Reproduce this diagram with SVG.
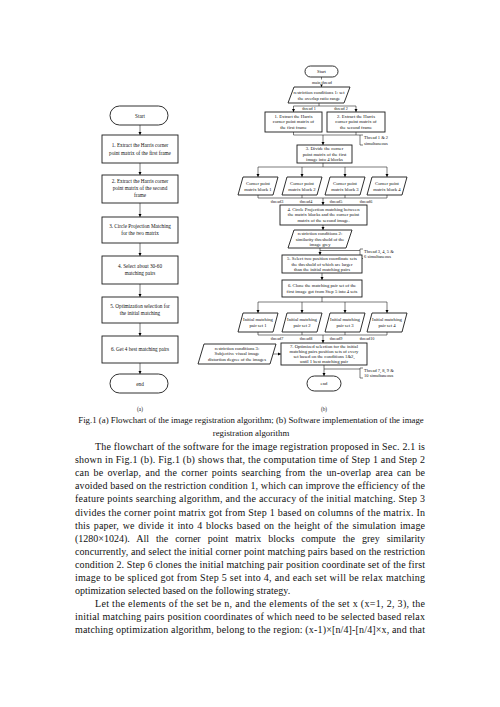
<svg xmlns="http://www.w3.org/2000/svg" width="500" height="707" viewBox="0 0 500 707">
<defs>
<marker id="ah" viewBox="0 0 6 6" refX="6" refY="3" markerWidth="3.2" markerHeight="3.2" orient="auto" markerUnits="userSpaceOnUse"><path d="M0,0 L6,3 L0,6 z" fill="#000"/></marker>
<style>
.bx{fill:#fff;stroke:#1a1a1a;stroke-width:0.9}
.ln{fill:none;stroke:#222;stroke-width:0.6}
.ar{fill:none;stroke:#222;stroke-width:0.6;marker-end:url(#ah)}
.tl{font-family:"Liberation Serif","Times New Roman",serif;font-size:5.2px;fill:#111;text-anchor:middle}
.tr{font-family:"Liberation Serif","Times New Roman",serif;font-size:4.7px;fill:#111;text-anchor:middle}
.ts{font-family:"Liberation Serif","Times New Roman",serif;font-size:4.2px;fill:#111;text-anchor:middle}
.tn{font-family:"Liberation Serif","Times New Roman",serif;font-size:4.5px;fill:#111;text-anchor:start}
.cap{font-family:"Liberation Serif","Times New Roman",serif;font-size:8.8px;fill:#111;text-anchor:middle}
.p{font-family:"Liberation Serif","Times New Roman",serif;font-size:10px;fill:#111}
</style>
</defs>
<rect width="500" height="707" fill="#fff"/>

<!-- connectors -->
<g id="connectors">
<path class="ar" d="M140,125 V135"/>
<path class="ar" d="M140,163 V175"/>
<path class="ar" d="M140,203 V217"/>
<path class="ar" d="M140,243 V256"/>
<path class="ar" d="M140,284 V297"/>
<path class="ar" d="M140,323 V336"/>
<path class="ar" d="M140,363 V374"/>
<path class="ar" d="M321.5,77 V87"/>
<path class="ln" d="M319,103 V106 M293.5,106 H356"/>
<path class="ar" d="M293.5,106 V112"/>
<path class="ar" d="M356,106 V112"/>
<path class="ln" d="M293.5,132 V135 H356 V132 M356,135 H360 M363,135 H360 V145 H363"/>
<path class="ar" d="M323,135 V145"/>
<path class="ln" d="M323,163 V167 M258,167 H387"/>
<path class="ar" d="M258,167 V177"/>
<path class="ar" d="M302,167 V177"/>
<path class="ar" d="M345,167 V177"/>
<path class="ar" d="M387,167 V177"/>
<path class="ln" d="M258,195 V198 M302,195 V198 M345,195 V198 M387,195 V198 M258,198 H387"/>
<path class="ar" d="M323,198 V205"/>
<path class="ar" d="M323,225 V230"/>
<path class="ar" d="M320,248 V255"/>
<path class="ln" d="M320,250.5 H360 M363,249 H360 V258.5 H363"/>
<path class="ar" d="M322,273 V280"/>
<path class="ln" d="M322,297 V302 M258,302 H387"/>
<path class="ar" d="M258,302 V313"/>
<path class="ar" d="M302,302 V313"/>
<path class="ar" d="M345,302 V313"/>
<path class="ar" d="M387,302 V313"/>
<path class="ln" d="M258,332 V335 M302,332 V335 M345,332 V335 M387,332 V335 M258,335 H387"/>
<path class="ar" d="M323,335 V343"/>
<path class="ar" d="M273,354 H281"/>
<path class="ar" d="M324,365 V376"/>
<path class="ln" d="M324,369 H360 M363,368 H360 V378 H363"/>
</g>

<!-- left flowchart (a) -->
<g id="a-start"><rect class="bx" x="110" y="106" width="58" height="19" rx="9.5"/><text class="tl" x="140" y="117.5">Start</text></g>
<g id="a-step1"><rect class="bx" x="102" y="135" width="76" height="28"/><text class="tl" x="140" y="147">1. Extract the Harris corner</text><text class="tl" x="140" y="154.5">point matrix of the first frame</text></g>
<g id="a-step2"><rect class="bx" x="102" y="175" width="76" height="28"/><text class="tl" x="140" y="183">2. Extract the Harris corner</text><text class="tl" x="140" y="190">point matrix of the second</text><text class="tl" x="140" y="197">frame</text></g>
<g id="a-step3"><rect class="bx" x="102" y="217" width="76" height="26"/><text class="tl" x="140" y="228">3. Circle Projection Matching</text><text class="tl" x="140" y="235">for the two matrix</text></g>
<g id="a-step4"><rect class="bx" x="102" y="256" width="76" height="28"/><text class="tl" x="140" y="268">4. Select about 30-60</text><text class="tl" x="140" y="275">matching pairs</text></g>
<g id="a-step5"><rect class="bx" x="102" y="297" width="76" height="26"/><text class="tl" x="140" y="308">5. Optimization selection for</text><text class="tl" x="140" y="315">the initial matching</text></g>
<g id="a-step6"><rect class="bx" x="102" y="336" width="76" height="27"/><text class="tl" x="140" y="351">6. Get 4 best matching pairs</text></g>
<g id="a-end"><rect class="bx" x="110" y="374" width="58" height="19" rx="9.5"/><text class="tl" x="140" y="385.5">end</text></g>
<text class="tl" x="140" y="411">(a)</text>

<!-- right flowchart (b) -->
<g id="b-start"><rect class="bx" x="305" y="66" width="33" height="11" rx="5.5"/><text class="tr" x="321.5" y="73.3">Start</text></g>
<g id="b-mainthread"><rect x="311" y="79.5" width="22" height="5" fill="#fff"/><text class="ts" x="322" y="83.5">main thread</text></g>
<g id="b-cond1"><polygon class="bx" points="294,87 350,87 344,103 288,103"/><text class="tr" x="319" y="94">restriction conditions 1: set</text><text class="tr" x="319" y="100">the overlap ratio range</text></g>
<g id="b-th1"><text class="ts" x="309" y="110.3">thread 1</text></g>
<g id="b-th2"><text class="ts" x="341" y="110.3">thread 2</text></g>
<g id="b-step1"><rect class="bx" x="265" y="112" width="57" height="20"/><text class="tr" x="293.5" y="117.5">1. Extract the Harris</text><text class="tr" x="293.5" y="123.3">corner point matrix of</text><text class="tr" x="293.5" y="129.1">the first frame</text></g>
<g id="b-step2"><rect class="bx" x="327" y="112" width="58" height="20"/><text class="tr" x="356" y="117.5">2. Extract the Harris</text><text class="tr" x="356" y="123.3">corner point matrix of</text><text class="tr" x="356" y="129.1">the second frame</text></g>
<g id="b-note12"><text class="tn" x="364" y="139.3">Thread 1 &amp; 2</text><text class="tn" x="364" y="144.8">simultaneous</text></g>
<g id="b-step3"><rect class="bx" x="297" y="145" width="55" height="18"/><text class="tr" x="324.5" y="150.2">3. Divide the corner</text><text class="tr" x="324.5" y="155.8">point matrix of the first</text><text class="tr" x="324.5" y="161.4">image into 4 blocks</text></g>
<g id="b-block1"><polygon class="bx" points="243,177 278,177 273,195 238,195"/><text class="tr" x="258" y="185">Corner point</text><text class="tr" x="258" y="190.8">matrix block 1</text></g>
<g id="b-block2"><polygon class="bx" points="287,177 322,177 317,195 282,195"/><text class="tr" x="302" y="185">Corner point</text><text class="tr" x="302" y="190.8">matrix block 2</text></g>
<g id="b-block3"><polygon class="bx" points="330,177 365,177 360,195 325,195"/><text class="tr" x="345" y="185">Corner point</text><text class="tr" x="345" y="190.8">matrix block 3</text></g>
<g id="b-block4"><polygon class="bx" points="372,177 407,177 402,195 367,195"/><text class="tr" x="387" y="185">Corner point</text><text class="tr" x="387" y="190.8">matrix block 4</text></g>
<g id="b-th3"><text class="ts" x="277" y="202.5">thread3</text></g>
<g id="b-th4"><text class="ts" x="306" y="202.5">thread4</text></g>
<g id="b-th5"><text class="ts" x="336" y="202.5">thread5</text></g>
<g id="b-th6"><text class="ts" x="366" y="202.5">thread6</text></g>
<g id="b-step4"><rect class="bx" x="280" y="205" width="87" height="20"/><text class="tr" x="323.5" y="210.5">4. Circle Projection matching between</text><text class="tr" x="323.5" y="216.2">the matrix blocks and the corner point</text><text class="tr" x="323.5" y="221.9">matrix of the second image.</text></g>
<g id="b-cond2"><polygon class="bx" points="294,230 352,230 346,248 288,248"/><text class="tr" x="320" y="235.3">restriction conditions 2:</text><text class="tr" x="320" y="240.9">similarity threshold of the</text><text class="tr" x="320" y="246.4">image grey</text></g>
<g id="b-note36"><text class="tn" x="364" y="252.6">Thread 3, 4, 5 &amp;</text><text class="tn" x="364" y="258">6 simultaneous</text></g>
<g id="b-step5"><rect class="bx" x="282" y="255" width="80" height="18"/><text class="tr" x="322" y="260.2">5. Select two position coordinate sets</text><text class="tr" x="322" y="265.8">the threshold of which are larger</text><text class="tr" x="322" y="271.4">than the initial matching pairs</text></g>
<g id="b-step6"><rect class="bx" x="282" y="280" width="80" height="17"/><text class="tr" x="322" y="287">6. Clone the matching pair set of the</text><text class="tr" x="322" y="292.8">first image got from Step 5 into 4 sets</text></g>
<g id="b-set1"><polygon class="bx" points="243,313 278,313 273,332 238,332"/><text class="tr" x="258" y="321.3">Initial matching</text><text class="tr" x="258" y="327.2">pair set 1</text></g>
<g id="b-set2"><polygon class="bx" points="287,313 322,313 317,332 282,332"/><text class="tr" x="302" y="321.3">Initial matching</text><text class="tr" x="302" y="327.2">pair set 2</text></g>
<g id="b-set3"><polygon class="bx" points="330,313 365,313 360,332 325,332"/><text class="tr" x="345" y="321.3">Initial matching</text><text class="tr" x="345" y="327.2">pair set 3</text></g>
<g id="b-set4"><polygon class="bx" points="372,313 407,313 402,332 367,332"/><text class="tr" x="387" y="321.3">Initial matching</text><text class="tr" x="387" y="327.2">pair set 4</text></g>
<g id="b-th7"><text class="ts" x="277" y="339.5">thread7</text></g>
<g id="b-th8"><text class="ts" x="306" y="339.5">thread8</text></g>
<g id="b-th9"><text class="ts" x="336" y="339.5">thread9</text></g>
<g id="b-th10"><text class="ts" x="367" y="339.5">thread10</text></g>
<g id="b-cond3"><polygon class="bx" points="204,344 276,344 270,364 198,364"/><text class="tr" x="237" y="349.6">restriction conditions 3:</text><text class="tr" x="237" y="355.2">Subjective visual image</text><text class="tr" x="237" y="360.8">distortion degree of the images</text></g>
<g id="b-step7"><rect class="bx" x="281" y="343" width="86" height="22"/><text class="tr" x="324" y="348">7. Optimized selection for the initial</text><text class="tr" x="324" y="353.1">matching pairs position sets of every</text><text class="tr" x="324" y="358.2">set based on the conditions 1&amp;2,</text><text class="tr" x="324" y="363.3">until 1 best matching pair</text></g>
<g id="b-note710"><text class="tn" x="364" y="371.8">Thread 7, 8, 9 &amp;</text><text class="tn" x="364" y="377.3">10 simultaneous</text></g>
<g id="b-end"><rect class="bx" x="307" y="376" width="34" height="15" rx="7.5"/><text class="tr" x="324" y="385">end</text></g>
<text class="tl" x="324" y="411">(b)</text>

<!-- caption -->
<text class="cap" x="251" y="423">Fig.1 (a) Flowchart of the image registration algorithm; (b) Software implementation of the image</text>
<text class="cap" x="251" y="436">registration algorithm</text>

<!-- body text -->
<g id="body">
<text class="p" x="95" y="450" textLength="330" lengthAdjust="spacing">The flowchart of the software for the image registration proposed in Sec. 2.1 is</text>
<text class="p" x="75" y="463.1" textLength="350" lengthAdjust="spacing">shown in Fig.1 (b). Fig.1 (b) shows that, the computation time of Step 1 and Step 2</text>
<text class="p" x="75" y="476.2" textLength="350" lengthAdjust="spacing" word-spacing="1.5">can be overlap, and the corner points searching from the un-overlap area can be</text>
<text class="p" x="75" y="489.3" textLength="350" lengthAdjust="spacing">avoided based on the restriction condition 1, which can improve the efficiency of the</text>
<text class="p" x="75" y="502.4" textLength="350" lengthAdjust="spacing">feature points searching algorithm, and the accuracy of the initial matching. Step 3</text>
<text class="p" x="75" y="515.5" textLength="350" lengthAdjust="spacing">divides the corner point matrix got from Step 1 based on columns of the matrix. In</text>
<text class="p" x="75" y="528.6" textLength="350" lengthAdjust="spacing" word-spacing="1">this paper, we divide it into 4 blocks based on the height of the simulation image</text>
<text class="p" x="75" y="541.7" textLength="350" lengthAdjust="spacing" word-spacing="4.5">(1280×1024). All the corner point matrix blocks compute the grey similarity</text>
<text class="p" x="75" y="554.8" textLength="350" lengthAdjust="spacing">concurrently, and select the initial corner point matching pairs based on the restriction</text>
<text class="p" x="75" y="567.9" textLength="350" lengthAdjust="spacing">condition 2. Step 6 clones the initial matching pair position coordinate set of the first</text>
<text class="p" x="75" y="581" textLength="350" lengthAdjust="spacing">image to be spliced got from Step 5 set into 4, and each set will be relax matching</text>
<text class="p" x="75" y="594.1">optimization selected based on the following strategy.</text>
<text class="p" x="95" y="607.2" textLength="330" lengthAdjust="spacing">Let the elements of the set be n, and the elements of the set x (x=1, 2, 3), the</text>
<text class="p" x="75" y="620.3" textLength="350" lengthAdjust="spacing">initial matching pairs position coordinates of which need to be selected based relax</text>
<text class="p" x="75" y="633.4" textLength="350" lengthAdjust="spacing">matching optimization algorithm, belong to the region: (x-1)×[n/4]-[n/4]×x, and that</text>
</g>
</svg>
